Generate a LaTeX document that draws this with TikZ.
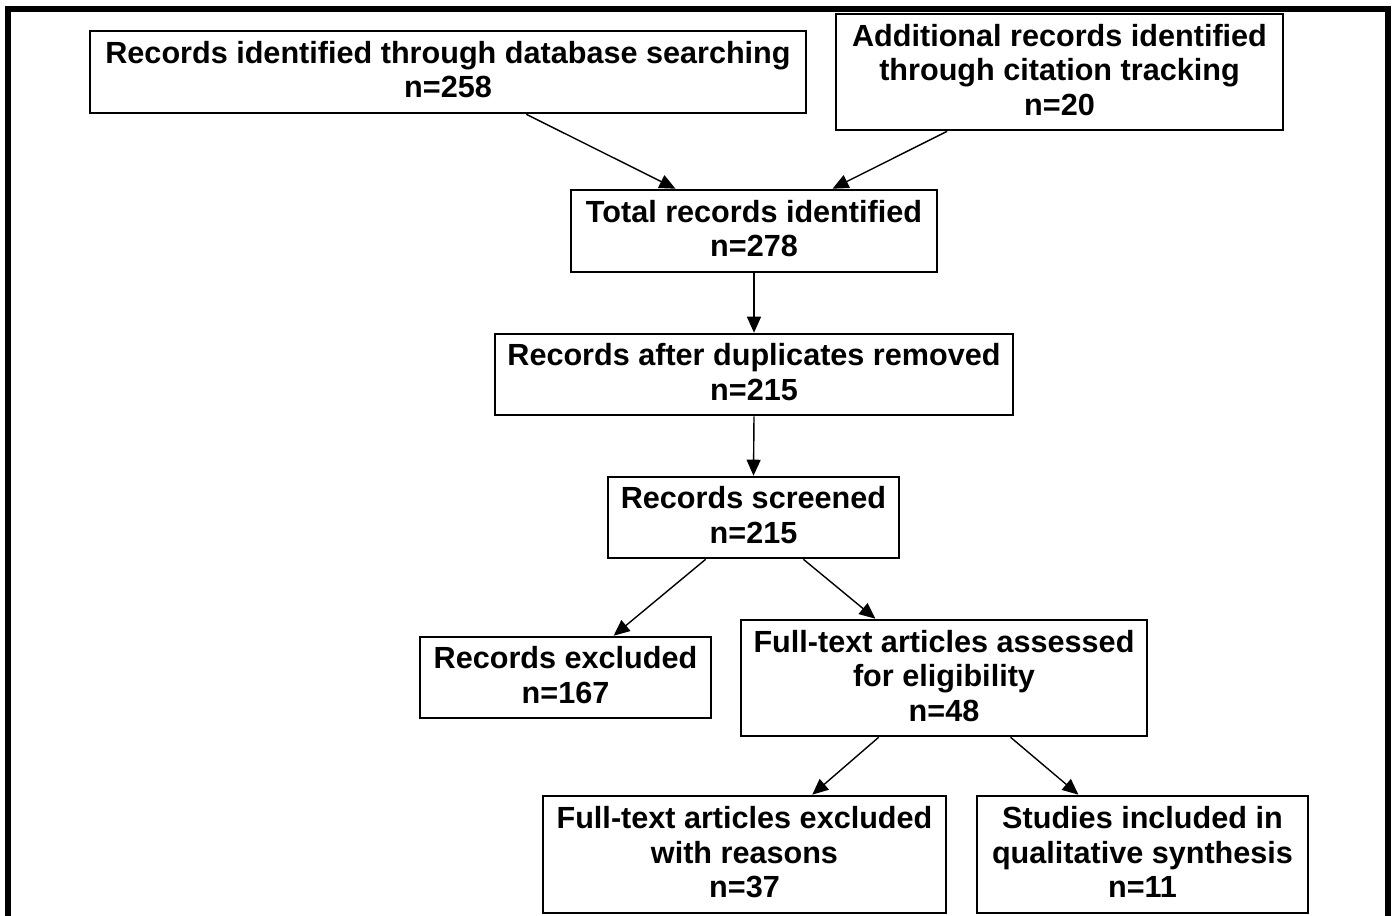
\documentclass[tikz,border=0pt]{standalone}
\usepackage{fontspec}
\setmainfont{Liberation Sans}
\usetikzlibrary{arrows.meta,calc}
\begin{document}
\begin{tikzpicture}[x=1pt,y=-1pt,
  box/.style={draw=black,line width=2.6pt,fill=white,inner sep=0pt,align=center,text depth=5pt,
    font=\fontsize{30.6}{34.5}\selectfont\bfseries},
  conn/.style={line width=1.4pt,-{Triangle[length=16pt,width=14pt]},shorten >=0pt}]
\useasboundingbox (0,0) rectangle (1393,916);
\fill[white] (0,0) rectangle (1393,916);
\draw[line width=6pt] (8,940) -- (8,9) -- (1388,9) -- (1388,940);
\node[box,minimum width=716pt,minimum height=82pt] (db) at (448,72) {Records identified through database searching\\n=258};
\node[box,minimum width=447pt,minimum height=116pt] (cit) at (1059.5,72) {Additional records identified\\through citation tracking\\n=20};
\node[box,minimum width=366pt,minimum height=82pt] (tot) at (754,231) {Total records identified\\n=278};
\node[box,minimum width=518pt,minimum height=81pt] (dup) at (754,374.5) {Records after duplicates removed\\n=215};
\node[box,minimum width=291pt,minimum height=81pt] (scr) at (753.5,517.5) {Records screened\\n=215};
\node[box,minimum width=291pt,minimum height=81pt] (exc) at (565.5,677.5) {Records excluded\\n=167};
\node[box,minimum width=406pt,minimum height=116pt] (ft) at (944,678) {Full-text articles assessed\\for eligibility\\n=48};
\node[box,minimum width=403pt,minimum height=117pt] (ftx) at (744.5,854.5) {Full-text articles excluded\\with reasons\\n=37};
\node[box,minimum width=331pt,minimum height=117pt] (inc) at (1142.5,854.5) {Studies included in\\qualitative synthesis\\n=11};
\draw[conn] ($(db.south west)!0.609!(db.south east)$) -- ($(tot.north west)!0.287!(tot.north east)$);
\draw[conn] ($(cit.south west)!0.25!(cit.south east)$) -- ($(tot.north west)!0.713!(tot.north east)$);
\draw[conn] (tot.south) -- (dup.north);
\draw[conn] (dup.south) -- (scr.north);
\draw[conn] ($(scr.south west)!0.337!(scr.south east)$) -- ($(exc.north west)!0.664!(exc.north east)$);
\draw[conn] ($(scr.south west)!0.670!(scr.south east)$) -- ($(ft.north west)!0.332!(ft.north east)$);
\draw[conn] ($(ft.south west)!0.340!(ft.south east)$) -- ($(ftx.north west)!0.667!(ftx.north east)$);
\draw[conn] ($(ft.south west)!0.663!(ft.south east)$) -- ($(inc.north west)!0.308!(inc.north east)$);
\end{tikzpicture}
\end{document}
